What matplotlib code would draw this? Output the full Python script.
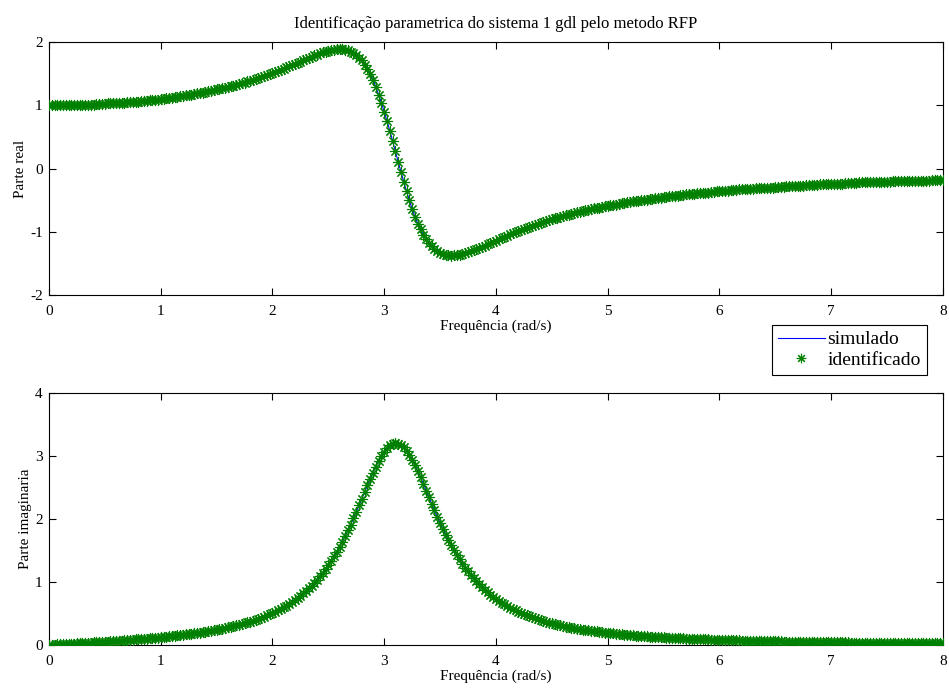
import matplotlib
matplotlib.use("Agg")
import matplotlib.pyplot as plt

plt.rcParams['font.family'] = ['Liberation Serif', 'DejaVu Serif']
plt.rcParams['axes.unicode_minus'] = False

# Frequency grid (rad/s)
freq = [
    0.000, 0.025, 0.050, 0.075, 0.100, 0.125, 0.150, 0.175, 0.200, 0.225,
    0.250, 0.275, 0.300, 0.325, 0.350, 0.375, 0.400, 0.425, 0.450, 0.475,
    0.500, 0.525, 0.550, 0.575, 0.600, 0.625, 0.650, 0.675, 0.700, 0.725,
    0.750, 0.775, 0.800, 0.825, 0.850, 0.875, 0.900, 0.925, 0.950, 0.975,
    1.000, 1.025, 1.050, 1.075, 1.100, 1.125, 1.150, 1.175, 1.200, 1.225,
    1.250, 1.275, 1.300, 1.325, 1.350, 1.375, 1.400, 1.425, 1.450, 1.475,
    1.500, 1.525, 1.550, 1.575, 1.600, 1.625, 1.650, 1.675, 1.700, 1.725,
    1.750, 1.775, 1.800, 1.825, 1.850, 1.875, 1.900, 1.925, 1.950, 1.975,
    2.000, 2.025, 2.050, 2.075, 2.100, 2.125, 2.150, 2.175, 2.200, 2.225,
    2.250, 2.275, 2.300, 2.325, 2.350, 2.375, 2.400, 2.425, 2.450, 2.475,
    2.500, 2.525, 2.550, 2.575, 2.600, 2.625, 2.650, 2.675, 2.700, 2.725,
    2.750, 2.775, 2.800, 2.825, 2.850, 2.875, 2.900, 2.925, 2.950, 2.975,
    3.000, 3.025, 3.050, 3.075, 3.100, 3.125, 3.150, 3.175, 3.200, 3.225,
    3.250, 3.275, 3.300, 3.325, 3.350, 3.375, 3.400, 3.425, 3.450, 3.475,
    3.500, 3.525, 3.550, 3.575, 3.600, 3.625, 3.650, 3.675, 3.700, 3.725,
    3.750, 3.775, 3.800, 3.825, 3.850, 3.875, 3.900, 3.925, 3.950, 3.975,
    4.000, 4.025, 4.050, 4.075, 4.100, 4.125, 4.150, 4.175, 4.200, 4.225,
    4.250, 4.275, 4.300, 4.325, 4.350, 4.375, 4.400, 4.425, 4.450, 4.475,
    4.500, 4.525, 4.550, 4.575, 4.600, 4.625, 4.650, 4.675, 4.700, 4.725,
    4.750, 4.775, 4.800, 4.825, 4.850, 4.875, 4.900, 4.925, 4.950, 4.975,
    5.000, 5.025, 5.050, 5.075, 5.100, 5.125, 5.150, 5.175, 5.200, 5.225,
    5.250, 5.275, 5.300, 5.325, 5.350, 5.375, 5.400, 5.425, 5.450, 5.475,
    5.500, 5.525, 5.550, 5.575, 5.600, 5.625, 5.650, 5.675, 5.700, 5.725,
    5.750, 5.775, 5.800, 5.825, 5.850, 5.875, 5.900, 5.925, 5.950, 5.975,
    6.000, 6.025, 6.050, 6.075, 6.100, 6.125, 6.150, 6.175, 6.200, 6.225,
    6.250, 6.275, 6.300, 6.325, 6.350, 6.375, 6.400, 6.425, 6.450, 6.475,
    6.500, 6.525, 6.550, 6.575, 6.600, 6.625, 6.650, 6.675, 6.700, 6.725,
    6.750, 6.775, 6.800, 6.825, 6.850, 6.875, 6.900, 6.925, 6.950, 6.975,
    7.000, 7.025, 7.050, 7.075, 7.100, 7.125, 7.150, 7.175, 7.200, 7.225,
    7.250, 7.275, 7.300, 7.325, 7.350, 7.375, 7.400, 7.425, 7.450, 7.475,
    7.500, 7.525, 7.550, 7.575, 7.600, 7.625, 7.650, 7.675, 7.700, 7.725,
    7.750, 7.775, 7.800, 7.825, 7.850, 7.875, 7.900, 7.925, 7.950, 7.975,
    8.000,
]

# Real part of the FRF
real_part = [
    1.00, 1.00, 1.00, 1.00, 1.00, 1.00, 1.00, 1.00, 1.00, 1.00,
    1.01, 1.01, 1.01, 1.01, 1.01, 1.01, 1.01, 1.02, 1.02, 1.02,
    1.02, 1.03, 1.03, 1.03, 1.03, 1.04, 1.04, 1.04, 1.05, 1.05,
    1.05, 1.06, 1.06, 1.07, 1.07, 1.07, 1.08, 1.08, 1.09, 1.09,
    1.10, 1.10, 1.11, 1.12, 1.12, 1.13, 1.13, 1.14, 1.15, 1.16,
    1.16, 1.17, 1.18, 1.19, 1.19, 1.20, 1.21, 1.22, 1.23, 1.24,
    1.25, 1.26, 1.27, 1.28, 1.29, 1.30, 1.31, 1.32, 1.34, 1.35,
    1.36, 1.38, 1.39, 1.40, 1.42, 1.43, 1.45, 1.46, 1.48, 1.49,
    1.51, 1.53, 1.54, 1.56, 1.58, 1.60, 1.62, 1.64, 1.65, 1.67,
    1.69, 1.71, 1.73, 1.75, 1.77, 1.79, 1.80, 1.82, 1.84, 1.85,
    1.86, 1.87, 1.88, 1.89, 1.89, 1.89, 1.88, 1.87, 1.85, 1.83,
    1.80, 1.75, 1.71, 1.64, 1.57, 1.49, 1.40, 1.29, 1.17, 1.04,
    0.90, 0.75, 0.60, 0.44, 0.27, 0.11, -0.05, -0.21, -0.36, -0.50,
    -0.64, -0.76, -0.87, -0.96, -1.05, -1.12, -1.18, -1.23, -1.28, -1.31,
    -1.34, -1.35, -1.37, -1.37, -1.38, -1.37, -1.37, -1.36, -1.35, -1.34,
    -1.32, -1.31, -1.29, -1.27, -1.25, -1.24, -1.22, -1.20, -1.18, -1.16,
    -1.14, -1.12, -1.10, -1.08, -1.06, -1.04, -1.02, -1.01, -0.99, -0.97,
    -0.95, -0.94, -0.92, -0.91, -0.89, -0.87, -0.86, -0.85, -0.83, -0.82,
    -0.80, -0.79, -0.78, -0.76, -0.75, -0.74, -0.73, -0.72, -0.71, -0.69,
    -0.68, -0.67, -0.66, -0.65, -0.64, -0.63, -0.62, -0.62, -0.61, -0.60,
    -0.59, -0.58, -0.57, -0.57, -0.56, -0.55, -0.54, -0.53, -0.53, -0.52,
    -0.51, -0.51, -0.50, -0.49, -0.49, -0.48, -0.48, -0.47, -0.46, -0.46,
    -0.45, -0.45, -0.44, -0.44, -0.43, -0.43, -0.42, -0.42, -0.41, -0.41,
    -0.40, -0.40, -0.39, -0.39, -0.38, -0.38, -0.38, -0.37, -0.37, -0.36,
    -0.36, -0.36, -0.35, -0.35, -0.34, -0.34, -0.34, -0.33, -0.33, -0.33,
    -0.32, -0.32, -0.32, -0.31, -0.31, -0.31, -0.30, -0.30, -0.30, -0.30,
    -0.29, -0.29, -0.29, -0.29, -0.28, -0.28, -0.28, -0.27, -0.27, -0.27,
    -0.27, -0.26, -0.26, -0.26, -0.26, -0.26, -0.25, -0.25, -0.25, -0.25,
    -0.24, -0.24, -0.24, -0.24, -0.24, -0.23, -0.23, -0.23, -0.23, -0.23,
    -0.22, -0.22, -0.22, -0.22, -0.22, -0.22, -0.21, -0.21, -0.21, -0.21,
    -0.21, -0.21, -0.20, -0.20, -0.20, -0.20, -0.20, -0.20, -0.20, -0.19,
    -0.19, -0.19, -0.19, -0.19, -0.19, -0.19, -0.18, -0.18, -0.18, -0.18,
    -0.18,
]

# Imaginary part of the FRF
imag_part = [
    0.000, 0.003, 0.005, 0.008, 0.010, 0.013, 0.015, 0.018, 0.020, 0.023,
    0.025, 0.028, 0.031, 0.033, 0.036, 0.039, 0.041, 0.044, 0.047, 0.050,
    0.052, 0.055, 0.058, 0.061, 0.064, 0.067, 0.071, 0.074, 0.077, 0.080,
    0.084, 0.087, 0.091, 0.094, 0.098, 0.102, 0.106, 0.110, 0.114, 0.118,
    0.122, 0.127, 0.131, 0.136, 0.141, 0.146, 0.151, 0.156, 0.161, 0.167,
    0.173, 0.178, 0.185, 0.191, 0.198, 0.204, 0.211, 0.219, 0.226, 0.234,
    0.242, 0.251, 0.260, 0.269, 0.279, 0.289, 0.299, 0.310, 0.321, 0.333,
    0.345, 0.358, 0.372, 0.386, 0.401, 0.417, 0.433, 0.451, 0.469, 0.488,
    0.508, 0.529, 0.551, 0.575, 0.600, 0.626, 0.654, 0.683, 0.714, 0.747,
    0.781, 0.818, 0.857, 0.899, 0.943, 0.989, 1.039, 1.091, 1.147, 1.206,
    1.269, 1.335, 1.405, 1.480, 1.558, 1.641, 1.727, 1.818, 1.912, 2.010,
    2.111, 2.215, 2.320, 2.427, 2.533, 2.637, 2.737, 2.833, 2.922, 3.001,
    3.070, 3.126, 3.168, 3.194, 3.204, 3.198, 3.175, 3.137, 3.084, 3.018,
    2.941, 2.854, 2.761, 2.660, 2.558, 2.452, 2.347, 2.241, 2.137, 2.035,
    1.938, 1.842, 1.752, 1.664, 1.582, 1.502, 1.428, 1.357, 1.290, 1.227,
    1.168, 1.111, 1.059, 1.009, 0.962, 0.918, 0.876, 0.837, 0.800, 0.765,
    0.733, 0.701, 0.672, 0.645, 0.619, 0.594, 0.570, 0.548, 0.527, 0.507,
    0.489, 0.470, 0.454, 0.437, 0.422, 0.407, 0.393, 0.380, 0.367, 0.355,
    0.344, 0.333, 0.322, 0.312, 0.302, 0.293, 0.284, 0.276, 0.268, 0.260,
    0.253, 0.245, 0.239, 0.232, 0.226, 0.219, 0.214, 0.208, 0.203, 0.197,
    0.192, 0.187, 0.183, 0.178, 0.174, 0.170, 0.165, 0.161, 0.158, 0.154,
    0.150, 0.147, 0.144, 0.140, 0.137, 0.134, 0.131, 0.128, 0.126, 0.123,
    0.120, 0.118, 0.115, 0.113, 0.111, 0.109, 0.106, 0.104, 0.102, 0.100,
    0.098, 0.096, 0.094, 0.093, 0.091, 0.089, 0.088, 0.086, 0.084, 0.083,
    0.081, 0.080, 0.079, 0.077, 0.076, 0.074, 0.073, 0.072, 0.071, 0.070,
    0.068, 0.067, 0.066, 0.065, 0.064, 0.063, 0.062, 0.061, 0.060, 0.059,
    0.058, 0.057, 0.056, 0.055, 0.055, 0.054, 0.053, 0.052, 0.051, 0.051,
    0.050, 0.049, 0.048, 0.048, 0.047, 0.046, 0.046, 0.045, 0.044, 0.044,
    0.043, 0.043, 0.042, 0.041, 0.041, 0.040, 0.040, 0.039, 0.039, 0.038,
    0.038, 0.037, 0.037, 0.036, 0.036, 0.035, 0.035, 0.034, 0.034, 0.034,
    0.033, 0.033, 0.032, 0.032, 0.031, 0.031, 0.031, 0.030, 0.030, 0.030,
    0.029, 0.029, 0.029, 0.028, 0.028, 0.028, 0.027, 0.027, 0.027, 0.026,
    0.026,
]

series_labels = ['simulado', 'identificado']
x_ticks = [0, 1, 2, 3, 4, 5, 6, 7, 8]
real_ticks = [-2, -1, 0, 1, 2]
imag_ticks = [0, 1, 2, 3, 4]

LINE_BLUE = '#0000ff'
MARK_GREEN = '#008000'
ASTERISK = (8, 2, 0)   # eight-spoke asterisk marker
FS = 11

fig = plt.figure(figsize=(9.49, 6.93), dpi=100)
ax1 = fig.add_axes([0.0516, 0.5743, 0.942, 0.365])
ax2 = fig.add_axes([0.0516, 0.0693, 0.942, 0.3636])


def style(ax, yticks, ylabel):
    ax.set_xlim(0, 8)
    ax.set_ylim(yticks[0], yticks[-1])
    ax.set_xticks(x_ticks)
    ax.set_yticks(yticks)
    ax.tick_params(direction='in', length=5, width=0.8, top=True, right=True,
                   labelsize=FS)
    ax.tick_params(axis='x', pad=7)
    ax.tick_params(axis='y', pad=4.5)
    for sp in ax.spines.values():
        sp.set_linewidth(0.8)
    ax.set_xlabel('Frequência (rad/s)', fontsize=FS, labelpad=1)
    ax.set_ylabel(ylabel, fontsize=FS, labelpad=2)


def draw(ax, values):
    ln, = ax.plot(freq, values, color=LINE_BLUE, lw=0.8, zorder=2)
    mk, = ax.plot(freq, values, linestyle='none', marker=ASTERISK, markersize=8,
                  color=MARK_GREEN, markeredgewidth=0.8, zorder=3)
    return ln, mk


ln, mk = draw(ax1, real_part)
draw(ax2, imag_part)

style(ax1, real_ticks, 'Parte real')
style(ax2, imag_ticks, 'Parte imaginaria')

ax1.set_title('Identificação parametrica do sistema 1 gdl pelo metodo RFP',
              fontsize=FS + 1, pad=10)

leg = fig.legend(handles=[ln, mk], labels=series_labels, loc='upper right',
                 bbox_to_anchor=(0.9765, 0.531), bbox_transform=fig.transFigure,
                 fancybox=False, framealpha=1, edgecolor='black', fontsize=14,
                 borderpad=0.3, handlelength=2.4, handletextpad=0.15,
                 labelspacing=0.15, borderaxespad=0, markerscale=0.85)
leg.get_frame().set_linewidth(0.8)

fig.savefig('out.png', dpi=100)
